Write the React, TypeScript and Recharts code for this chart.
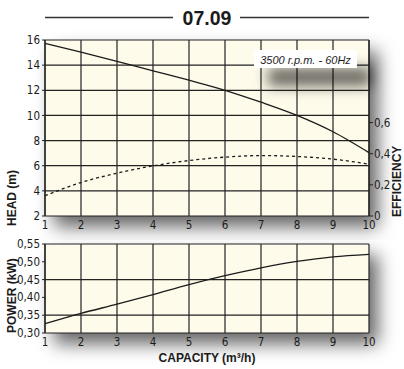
import React from 'react';
import { ComposedChart, Line, XAxis, YAxis, CartesianGrid } from 'recharts';

// Pump curve 07.09 — 3500 r.p.m., 60 Hz
const capacity = [1, 2, 3, 4, 5, 6, 7, 8, 9, 10];
const headM = [15.74, 15.03, 14.3, 13.55, 12.8, 12.0, 11.05, 10.0, 8.7, 7.04];
const efficiency = [0.13, 0.215, 0.275, 0.322, 0.356, 0.378, 0.388, 0.382, 0.365, 0.333];
const powerKw = [0.326, 0.355, 0.381, 0.408, 0.436, 0.461, 0.483, 0.501, 0.514, 0.521];

const headTicks = [2, 4, 6, 8, 10, 12, 14, 16];
const efficiencyTicks = [0, 0.2, 0.4, 0.6];
const powerTicks = [0.3, 0.35, 0.4, 0.45, 0.5, 0.55];
const powerGridColumns = [0, 1, 2, 3, 4, 5, 6, 7, 8, 9, 10, 11, 12];

const curveData = capacity.map((q, i) => ({
  q,
  head: headM[i],
  eff: efficiency[i],
  power: powerKw[i],
}));

const TICK_FONT = '"Liberation Sans Narrow", "DejaVu Sans Condensed", "Liberation Sans", sans-serif';
const TITLE_FONT = '"Liberation Sans", Arial, sans-serif';
const INK = '#1b1b1b';
const PAPER = '#FFFBEA';
const GRID = '#222222';

const tickStyle = { fontFamily: TICK_FONT, fontSize: 11.5, fill: INK };

const comma = (digits: number) => (v: number) =>
  v === 0 ? '0' : v.toFixed(digits).replace('.', ',');

// Rotated axis title whose start sits a little below the plot's bottom edge
const sideTitle = (text: string, dx: number, below: number) => (props: any) => {
  const vb = props.viewBox || {};
  const x = vb.x + dx;
  const y = vb.y + vb.height + below;
  return (
    <text
      x={x}
      y={y}
      transform={`rotate(-90 ${x} ${y})`}
      textAnchor="start"
      dominantBaseline="central"
      style={{ fontFamily: TITLE_FONT, fontWeight: 700, fontSize: 12, fill: INK }}
    >
      {text}
    </text>
  );
};

const capacityTitle = (props: any) => {
  const vb = props.viewBox || {};
  return (
    <text
      x={vb.x + vb.width / 2}
      y={vb.y + 25}
      textAnchor="middle"
      dominantBaseline="central"
      style={{ fontFamily: TITLE_FONT, fontWeight: 700, fontSize: 12, fill: INK }}
    >
      CAPACITY (m³/h)
    </text>
  );
};

const css = `
.pump-chart .recharts-cartesian-grid-bg {
  filter: drop-shadow(9px 11px 9px rgba(0,0,0,0.6));
}
`;

export default function App() {
  return (
    <div
      style={{
        position: 'absolute',
        left: 0,
        top: 0,
        width: 404,
        height: 369,
        background: '#ffffff',
        overflow: 'hidden',
      }}
    >
      <style>{css}</style>

      {/* Head and efficiency */}
      <div className="pump-chart" style={{ position: 'absolute', left: 0, top: 0 }}>
        <ComposedChart
          width={404}
          height={240}
          data={curveData}
          margin={{ top: 40, right: 0, bottom: 0, left: 0 }}
        >
          <CartesianGrid
            xAxisId="q"
            yAxisId="head"
            fill={PAPER}
            fillOpacity={1}
            stroke={GRID}
            strokeWidth={1.2}
          />
          <XAxis
            xAxisId="q"
            dataKey="q"
            type="number"
            domain={[1, 10]}
            ticks={capacity}
            height={24}
            tickSize={0}
            tickMargin={5}
            axisLine={false}
            tick={tickStyle}
          />
          <YAxis
            yAxisId="head"
            type="number"
            domain={[2, 16]}
            ticks={headTicks}
            width={45}
            tickSize={3}
            tickMargin={2}
            axisLine={{ stroke: GRID, strokeWidth: 1.2 }}
            tickLine={{ stroke: GRID }}
            tick={tickStyle}
            label={sideTitle('HEAD (m)', 12, 10)}
          />
          <YAxis
            yAxisId="eff"
            orientation="right"
            type="number"
            domain={[0, 1.13]}
            ticks={efficiencyTicks}
            width={35}
            tickSize={4}
            tickMargin={1}
            axisLine={{ stroke: GRID, strokeWidth: 1.2 }}
            tickLine={{ stroke: GRID }}
            tick={tickStyle}
            tickFormatter={comma(1)}
            label={sideTitle('EFFICIENCY', 28, 1)}
          />
          <Line
            xAxisId="q"
            yAxisId="head"
            dataKey="head"
            type="monotone"
            stroke={INK}
            strokeWidth={1.3}
            dot={false}
            isAnimationActive={false}
          />
          <Line
            xAxisId="q"
            yAxisId="eff"
            dataKey="eff"
            type="monotone"
            stroke={INK}
            strokeWidth={1.3}
            strokeDasharray="3 3"
            dot={false}
            isAnimationActive={false}
          />
        </ComposedChart>
      </div>

      {/* Absorbed power */}
      <div className="pump-chart" style={{ position: 'absolute', left: 0, top: 236 }}>
        <ComposedChart
          width={404}
          height={133}
          data={curveData}
          margin={{ top: 8, right: 35, bottom: 0, left: 0 }}
        >
          <CartesianGrid
            xAxisId="cols"
            yAxisId="power"
            fill={PAPER}
            fillOpacity={1}
            stroke={GRID}
            strokeWidth={1.2}
          />
          <XAxis
            xAxisId="cols"
            orientation="top"
            type="number"
            domain={[0, 12]}
            ticks={powerGridColumns}
            allowDataOverflow
            height={0}
            hide
          />
          <XAxis
            xAxisId="q"
            dataKey="q"
            type="number"
            domain={[1, 10]}
            ticks={capacity}
            height={36}
            tickSize={0}
            tickMargin={5}
            axisLine={false}
            tick={tickStyle}
            label={capacityTitle}
          />
          <YAxis
            yAxisId="power"
            type="number"
            domain={[0.3, 0.55]}
            ticks={powerTicks}
            width={45}
            tickSize={3}
            tickMargin={2}
            axisLine={{ stroke: GRID, strokeWidth: 1.2 }}
            tickLine={{ stroke: GRID }}
            tick={tickStyle}
            tickFormatter={comma(2)}
            label={sideTitle('POWER (kW)', 12, 0)}
          />
          <Line
            xAxisId="q"
            yAxisId="power"
            dataKey="power"
            type="monotone"
            stroke={INK}
            strokeWidth={1.3}
            dot={false}
            isAnimationActive={false}
          />
        </ComposedChart>
      </div>

      {/* Model title and speed note */}
      <svg
        width={404}
        height={369}
        style={{ position: 'absolute', left: 0, top: 0, pointerEvents: 'none' }}
      >
        <defs>
          <filter id="noteShadow" x="-30%" y="-80%" width="180%" height="400%">
            <feDropShadow dx="14" dy="18" stdDeviation="7" floodColor="#000" floodOpacity="0.6" />
          </filter>
        </defs>
        <line x1={45} y1={17.5} x2={173} y2={17.5} stroke="#333" strokeWidth={1.3} />
        <line x1={240} y1={17.5} x2={369} y2={17.5} stroke="#333" strokeWidth={1.3} />
        <text
          x={207}
          y={25}
          textAnchor="middle"
          style={{ fontFamily: TITLE_FONT, fontWeight: 700, fontSize: 19.5, fill: INK }}
        >
          07.09
        </text>
        <rect x={254} y={50} width={103} height={18} fill="#ffffff" filter="url(#noteShadow)" />
        <text
          x={305.5}
          y={59.5}
          textAnchor="middle"
          dominantBaseline="central"
          style={{ fontFamily: TITLE_FONT, fontStyle: 'italic', fontSize: 11, fill: INK }}
        >
          3500 r.p.m. - 60Hz
        </text>
      </svg>
    </div>
  );
}
